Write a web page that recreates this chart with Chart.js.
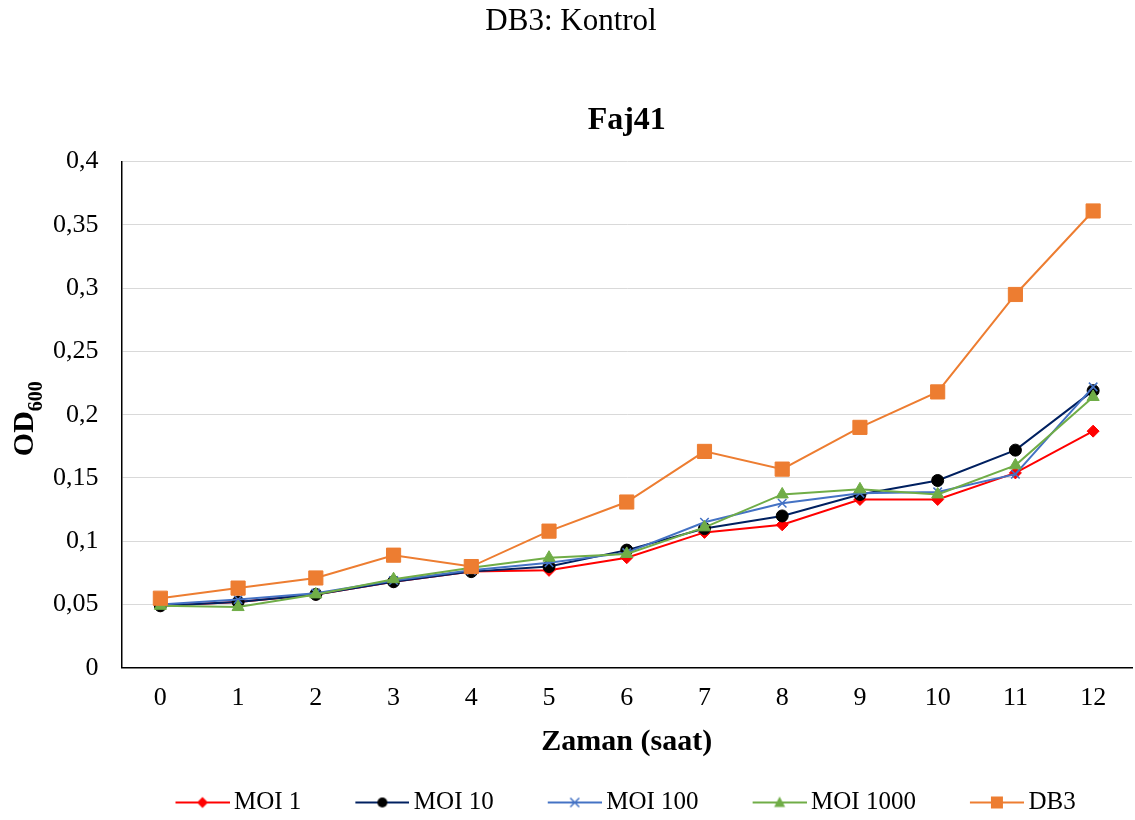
<!DOCTYPE html>
<html>
<head>
<meta charset="utf-8">
<title>Faj41</title>
<script src="https://cdn.jsdelivr.net/npm/chart.js@4.4.1/dist/chart.umd.min.js"></script>
<style>
    html, body { margin: 0; padding: 0; background: #fff; }
    .chart-container { position: relative; width: 1135px; height: 820px; }
</style>
</head>
<body>
<div class="chart-container">
    <canvas id="growthChart"></canvas>
</div>

<script>
    // Time points (hours) and OD600 readings per condition
    const hours = ['0', '1', '2', '3', '4', '5', '6', '7', '8', '9', '10', '11', '12'];
    const moi1 = [0.049, 0.052, 0.058, 0.068, 0.076, 0.077, 0.087, 0.107, 0.113, 0.133, 0.133, 0.154, 0.187];
    const moi10 = [0.049, 0.052, 0.058, 0.068, 0.076, 0.080, 0.093, 0.110, 0.120, 0.137, 0.148, 0.172, 0.219];
    const moi100 = [0.050, 0.054, 0.059, 0.069, 0.077, 0.083, 0.091, 0.115, 0.130, 0.138, 0.139, 0.153, 0.222];
    const moi1000 = [0.049, 0.048, 0.058, 0.070, 0.079, 0.087, 0.090, 0.111, 0.137, 0.141, 0.137, 0.160, 0.214];
    const db3 = [0.055, 0.063, 0.071, 0.089, 0.080, 0.108, 0.131, 0.171, 0.157, 0.190, 0.218, 0.295, 0.361];

    const serif = "'Liberation Serif', 'Times New Roman', serif";
    Chart.defaults.font.family = serif;
    Chart.defaults.color = '#000';

    // small line + marker swatch used as legend point style
    const LINE_W = 54, SWATCH_GAP = 36, OVERHANG = 8;
    function makeSwatch(color, markColor, shape) {
        const c = document.createElement('canvas');
        c.width = SWATCH_GAP + LINE_W + 2 * OVERHANG;
        c.height = 16;
        const g = c.getContext('2d');
        const x0 = c.width - LINE_W, cx = c.width - LINE_W / 2, cy = 8;
        g.strokeStyle = color;
        g.lineWidth = 2;
        g.beginPath();
        g.moveTo(x0, cy);
        g.lineTo(c.width, cy);
        g.stroke();
        g.fillStyle = markColor;
        g.strokeStyle = markColor;
        g.beginPath();
        if (shape === 'diamond') {
            g.moveTo(cx, cy - 5.5); g.lineTo(cx + 5.5, cy); g.lineTo(cx, cy + 5.5); g.lineTo(cx - 5.5, cy);
            g.closePath(); g.fill();
        } else if (shape === 'circle') {
            g.arc(cx, cy, 5, 0, Math.PI * 2); g.fill();
        } else if (shape === 'cross') {
            g.lineWidth = 1.5;
            g.moveTo(cx - 4.5, cy - 4.5); g.lineTo(cx + 4.5, cy + 4.5);
            g.moveTo(cx + 4.5, cy - 4.5); g.lineTo(cx - 4.5, cy + 4.5);
            g.stroke();
        } else if (shape === 'triangle') {
            g.moveTo(cx, cy - 6); g.lineTo(cx + 5.5, cy + 4.5); g.lineTo(cx - 5.5, cy + 4.5);
            g.closePath(); g.fill();
        } else {
            g.rect(cx - 6, cy - 6, 12, 12); g.fill();
        }
        return c;
    }

    const swatches = [
        makeSwatch('#ff0000', '#ff0000', 'diamond'),
        makeSwatch('#002060', '#000000', 'circle'),
        makeSwatch('#4472c4', '#4472c4', 'cross'),
        makeSwatch('#70ad47', '#70ad47', 'triangle'),
        makeSwatch('#ed7d31', '#ed7d31', 'square')
    ];

    // OD with subscript 600, drawn beside the y axis
    const yAxisTitle = {
        id: 'yAxisTitle',
        afterDraw(chart) {
            const ctx = chart.ctx;
            const area = chart.chartArea;
            const big = 'bold 30px ' + serif;
            const small = 'bold 20px ' + serif;
            ctx.save();
            ctx.font = big;
            const w1 = ctx.measureText('OD').width;
            ctx.font = small;
            const w2 = ctx.measureText('600').width;
            ctx.translate(33, (area.top + area.bottom) / 2 + 4);
            ctx.rotate(-Math.PI / 2);
            ctx.fillStyle = '#000';
            ctx.textBaseline = 'alphabetic';
            ctx.textAlign = 'left';
            const start = -(w1 + w2) / 2;
            ctx.font = big;
            ctx.fillText('OD', start, 0);
            ctx.font = small;
            ctx.fillText('600', start + w1, 9);
            ctx.restore();
        }
    };

    const ctx = document.getElementById('growthChart').getContext('2d');
    new Chart(ctx, {
        type: 'line',
        data: {
            labels: hours,
            datasets: [
                {
                    label: 'MOI 1',
                    data: moi1,
                    borderColor: '#ff0000',
                    backgroundColor: '#ff0000',
                    pointStyle: 'rectRot',
                    pointRadius: 6,
                    order: 5
                },
                {
                    label: 'MOI 10',
                    data: moi10,
                    borderColor: '#002060',
                    backgroundColor: '#000000',
                    pointBorderColor: '#000000',
                    pointStyle: 'circle',
                    pointRadius: 6,
                    order: 4
                },
                {
                    label: 'MOI 100',
                    data: moi100,
                    borderColor: '#4472c4',
                    backgroundColor: '#4472c4',
                    pointStyle: 'crossRot',
                    pointRadius: 6,
                    pointBorderWidth: 1.5,
                    order: 3
                },
                {
                    label: 'MOI 1000',
                    data: moi1000,
                    borderColor: '#70ad47',
                    backgroundColor: '#70ad47',
                    pointStyle: 'triangle',
                    pointRadius: 7,
                    order: 2
                },
                {
                    label: 'DB3',
                    data: db3,
                    borderColor: '#ed7d31',
                    backgroundColor: '#ed7d31',
                    pointStyle: 'rect',
                    pointRadius: 10,
                    order: 1
                }
            ]
        },
        options: {
            responsive: true,
            maintainAspectRatio: false,
            animation: false,
            datasets: {
                line: {
                    borderWidth: 2,
                    tension: 0,
                    fill: false,
                    pointBorderWidth: 1,
                    pointHoverRadius: 6
                }
            },
            layout: {
                autoPadding: false,
                padding: { left: 10, right: 3, top: 0, bottom: -5 }
            },
            scales: {
                x: {
                    offset: true,
                    grid: { display: false, drawTicks: false },
                    border: { display: true, color: '#000', width: 1.5 },
                    // edge labels sit inside the offset, no extra side padding
                    afterFit: function(scale) {
                        scale.paddingLeft = 0;
                        scale.paddingRight = 0;
                    },
                    ticks: { font: { size: 26 }, padding: 15, color: '#000' },
                    title: {
                        display: true,
                        text: 'Zaman (saat)',
                        font: { size: 30, weight: 'bold' },
                        padding: { top: -5, bottom: 20 },
                        color: '#000'
                    }
                },
                y: {
                    min: 0,
                    max: 0.4,
                    grid: { color: '#d9d9d9', lineWidth: 1, drawTicks: false },
                    border: { display: true, color: '#000', width: 1.5 },
                    // leave room on the left for the OD600 label
                    afterFit: function(scale) {
                        scale.width += 20;
                    },
                    ticks: {
                        stepSize: 0.05,
                        padding: 23,
                        font: { size: 26 },
                        color: '#000',
                        callback: function(value) {
                            return Number(value.toFixed(2)).toString().replace('.', ',');
                        }
                    }
                }
            },
            plugins: {
                title: {
                    display: true,
                    text: 'DB3: Kontrol',
                    font: { size: 31, weight: 'normal' },
                    color: '#000',
                    padding: { top: 3, bottom: 49 },
                    fullSize: true
                },
                subtitle: {
                    display: true,
                    text: 'Faj41',
                    font: { size: 32, weight: 'bold' },
                    color: '#000',
                    padding: { top: 12, bottom: 22 },
                    fullSize: false
                },
                legend: {
                    position: 'bottom',
                    align: 'start',
                    fullSize: false,
                    labels: {
                        usePointStyle: true,
                        pointStyleWidth: SWATCH_GAP + LINE_W,
                        padding: 10,
                        font: { size: 25 },
                        color: '#000',
                        generateLabels: function(chart) {
                            const items = Chart.defaults.plugins.legend.labels.generateLabels(chart);
                            items.sort((a, b) => a.datasetIndex - b.datasetIndex);
                            items.forEach(item => {
                                item.pointStyle = swatches[item.datasetIndex];
                                item.rotation = 0;
                            });
                            return items;
                        }
                    }
                },
                tooltip: { enabled: false }
            }
        },
        plugins: [yAxisTitle]
    });
</script>
</body>
</html>
